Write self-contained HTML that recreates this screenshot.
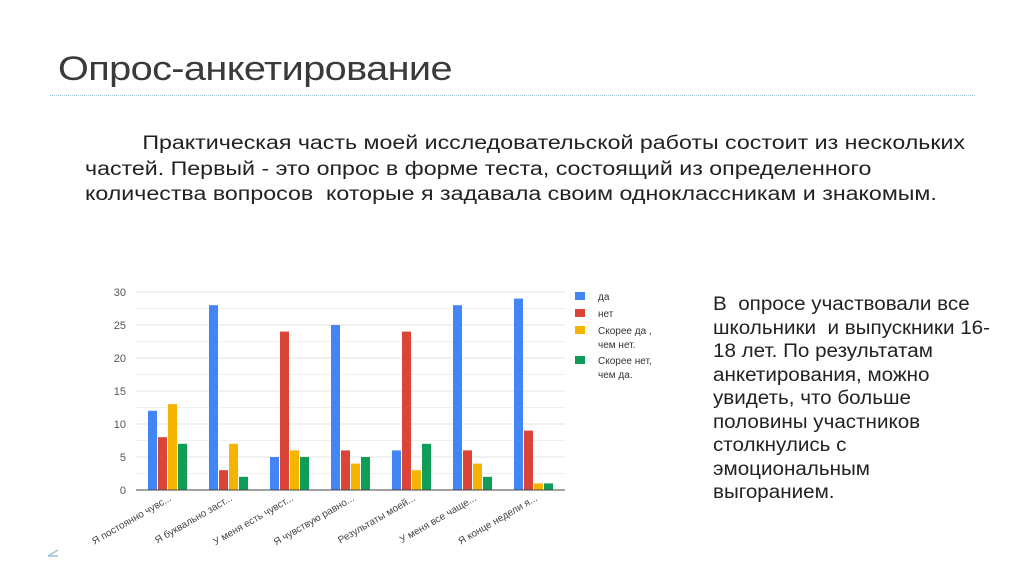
<!DOCTYPE html>
<html><head><meta charset="utf-8"><style>
body{margin:0;width:1024px;height:574px;background:#fff;position:relative;overflow:hidden;font-family:"Liberation Sans","DejaVu Sans",sans-serif}
.t{position:absolute;left:58px;top:50px;font-size:34px;color:#3a3a3a;letter-spacing:-0.5px;transform:scaleX(1.166);transform-origin:0 0;white-space:nowrap}
.hr{position:absolute;left:50px;top:95px;width:925px;border-top:1px dotted #9cc3d5}
.p{position:absolute;left:85px;top:131px;font-size:19px;line-height:25.5px;color:#222;white-space:nowrap;transform:scaleX(1.22);transform-origin:0 0}
.r{position:absolute;left:713px;top:293px;font-size:19px;line-height:23.5px;color:#222;white-space:nowrap;transform:scaleX(1.085);transform-origin:0 0}
.lg{font-size:10px;fill:#333}
</style></head><body>
<div class="t">Опрос-анкетирование</div>
<div class="hr"></div>
<div class="p"><span style="display:inline-block;width:47px"></span>Практическая часть моей исследовательской работы состоит из нескольких<br>частей. Первый - это опрос в форме теста, состоящий из определенного<br>количества вопросов&nbsp; которые я задавала своим одноклассникам и знакомым.</div>
<div class="r">В&nbsp; опросе участвовали все<br>школьники&nbsp; и выпускники 16-<br>18 лет. По результатам<br>анкетирования, можно<br>увидеть, что больше<br>половины участников<br>столкнулись с<br>эмоциональным<br>выгоранием.</div>
<svg width="1024" height="574" style="position:absolute;left:0;top:0">
<g stroke="#e3e3e3" stroke-width="1">
<line x1="136" x2="565" y1="292" y2="292"/><line x1="136" x2="565" y1="325" y2="325"/><line x1="136" x2="565" y1="358" y2="358"/><line x1="136" x2="565" y1="391" y2="391"/><line x1="136" x2="565" y1="424" y2="424"/><line x1="136" x2="565" y1="457" y2="457"/>
<line x1="136" x2="565" y1="308.5" y2="308.5" stroke="#f0f0f0"/><line x1="136" x2="565" y1="341.5" y2="341.5" stroke="#f0f0f0"/><line x1="136" x2="565" y1="374.5" y2="374.5" stroke="#f0f0f0"/><line x1="136" x2="565" y1="407.5" y2="407.5" stroke="#f0f0f0"/><line x1="136" x2="565" y1="440.5" y2="440.5" stroke="#f0f0f0"/><line x1="136" x2="565" y1="473.5" y2="473.5" stroke="#f0f0f0"/>
</g>
<g font-size="11" fill="#555" text-anchor="end" font-family="Liberation Sans,sans-serif">
<text x="126" y="296">30</text><text x="126" y="329">25</text><text x="126" y="362">20</text><text x="126" y="395">15</text><text x="126" y="428">10</text><text x="126" y="461">5</text><text x="126" y="494">0</text>
</g>
<g id="bars"></g>
<line x1="136" x2="565" y1="490" y2="490" stroke="#444" stroke-width="1"/>
<g font-size="10" fill="#444" text-anchor="end">
<text transform="translate(172,500) rotate(-30)">Я постоянно чувс...</text>
<text transform="translate(233,500) rotate(-30)">Я буквально заст...</text>
<text transform="translate(294,500) rotate(-30)">У меня есть чувст...</text>
<text transform="translate(355,500) rotate(-30)">Я чувствую равно...</text>
<text transform="translate(416,500) rotate(-30)">Результаты моей...</text>
<text transform="translate(477,500) rotate(-30)">У меня все чаще...</text>
<text transform="translate(538,500) rotate(-30)">Я конце недели я...</text>
</g>
<rect x="575" y="292" width="10" height="8" fill="#4285f4"/><text class="lg" x="598" y="300">да</text>
<rect x="575" y="309" width="10" height="8" fill="#db4437"/><text class="lg" x="598" y="317">нет</text>
<rect x="575" y="326" width="10" height="8" fill="#f4b400"/><text class="lg" x="598" y="334">Скорее да ,</text><text class="lg" x="598" y="348">чем нет.</text>
<rect x="575" y="356" width="10" height="8" fill="#0f9d58"/><text class="lg" x="598" y="364">Скорее нет,</text><text class="lg" x="598" y="378">чем да.</text>
<g stroke="#9cc3d5" stroke-width="1.5"><line x1="48" y1="556" x2="58" y2="550"/><line x1="48" y1="556" x2="58" y2="556"/></g>
</svg>
<script>
var d=[[12,8,13,7],[28,3,7,2],[5,24,6,5],[25,6,4,5],[6,24,3,7],[28,6,4,2],[29,9,1,1]];
var c=["#4285f4","#db4437","#f4b400","#0f9d58"],s="";
d.forEach(function(g,i){g.forEach(function(v,j){var x=148+i*61+j*10,h=v*6.6;s+='<rect x="'+x+'" y="'+(490-h)+'" width="9" height="'+h+'" fill="'+c[j]+'"/>';});});
document.getElementById("bars").innerHTML=s;
</script>
</body></html>
